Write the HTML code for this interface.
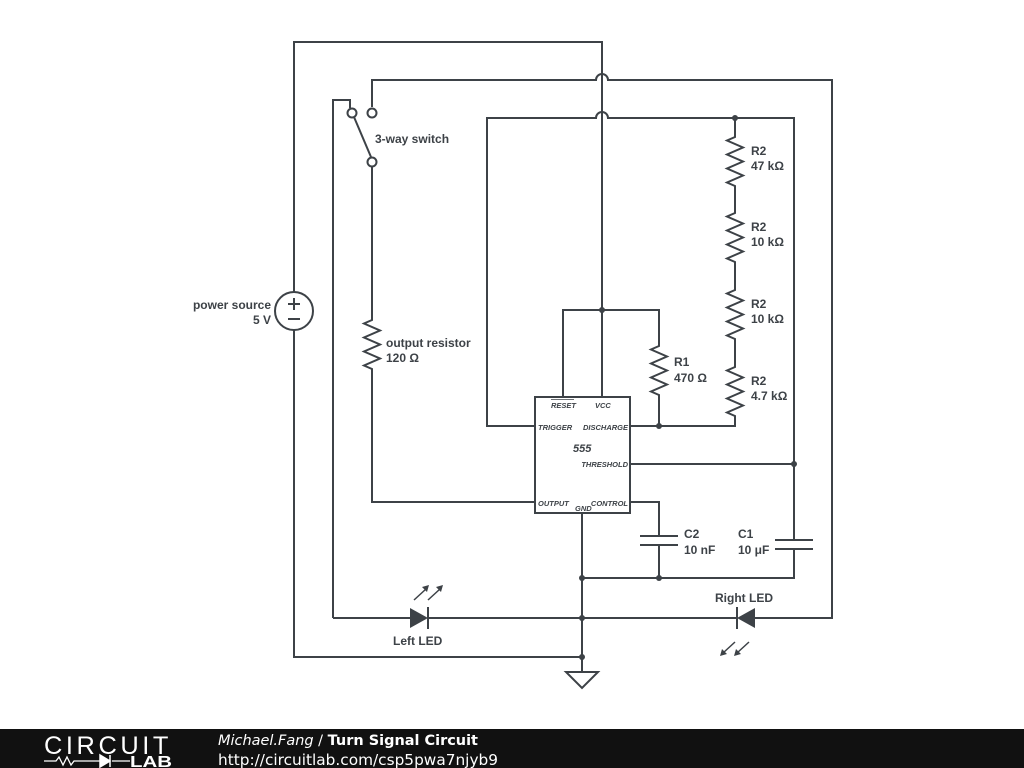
<!DOCTYPE html>
<html><head><meta charset="utf-8"><style>
body{margin:0;width:1024px;height:768px;background:#fff;overflow:hidden;font-family:"Liberation Sans",sans-serif}
svg{position:absolute;left:0;top:0}
</style></head><body>
<svg width="1024" height="768" viewBox="0 0 1024 768" xmlns="http://www.w3.org/2000/svg">
<g fill="none" stroke="#3d4247" stroke-width="2">
<path d="M294 292 V42 H602 V310"/>
<path d="M294 330 V657 H582"/>
<circle cx="294" cy="311" r="19"/>
<path d="M288 304 h12 M294 298 v12 M288 319 h12"/>
<path d="M372 107 V80 H596 a6 6 0 0 1 12 0 H832 V618 H752"/>
<path d="M333 618 V100 H350 V108"/>
<circle cx="352" cy="113" r="4.5" fill="#fff"/>
<circle cx="372" cy="113" r="4.5" fill="#fff"/>
<circle cx="372" cy="162" r="4.5" fill="#fff"/>
<path d="M354 117 L371 157"/>
<path d="M372 167 V320 l-8 3.5 l16 7 l-16 7 l16 7 l-16 7 l16 7 l-16 7 l8 3.5 V502 H535"/>
<path d="M535 426 H487 V118 H596 a6 6 0 0 1 12 0 H794 V540"/>
<path d="M794 549 V578 H582"/>
<path d="M735 118 V137 l-8 3.5 l16 7 l-16 7 l16 7 l-16 7 l16 7 l-16 7 l8 3.5 V213 l-8 3.5 l16 7 l-16 7 l16 7 l-16 7 l16 7 l-16 7 l8 3.5 V290 l-8 3.5 l16 7 l-16 7 l16 7 l-16 7 l16 7 l-16 7 l8 3.5 V367 l-8 3.5 l16 7 l-16 7 l16 7 l-16 7 l16 7 l-16 7 l8 3.5 V426 H630"/>
<path d="M563 397 V310 H659 V346 l-8 3.5 l16 7 l-16 7 l16 7 l-16 7 l16 7 l-16 7 l8 3.5 V426"/>
<path d="M602 310 V397"/>
<path d="M630 464 H794"/>
<path d="M630 502 H659 V536 M659 545 V578"/>
<path d="M640 536 h38 M640 545 h38"/>
<path d="M775 540 h38 M775 549 h38"/>
<path d="M582 513 V672"/>
<path d="M566 672 h32 l-16 16 z"/>
<path d="M333 618 H410 M428 618 H738"/>
<path d="M428 607 v22 M737 607 v22"/>
<rect x="535" y="397" width="95" height="116"/>
<path d="M414 600 l12 -11 M428 600 l12 -11 M723 653 l12 -11 M737 653 l12 -11" stroke-width="1.5"/>
</g>
<g fill="#3d4247">
<path d="M410 608 L428 618 L410 628 Z"/>
<path d="M755 608 L737 618 L755 628 Z"/>
<path d="M429 585 l-7 2 l5 5 z M443 585 l-7 2 l5 5 z M720 656 l2 -7 l5 5 z M734 656 l2 -7 l5 5 z"/>
<circle cx="602" cy="310" r="3"/><circle cx="735" cy="118" r="3"/>
<circle cx="659" cy="426" r="3"/><circle cx="794" cy="464" r="3"/>
<circle cx="582" cy="578" r="3"/><circle cx="659" cy="578" r="3"/>
<circle cx="582" cy="618" r="3"/><circle cx="582" cy="657" r="3"/>
</g>
<g fill="#3d4247" font-family="Liberation Sans, sans-serif" font-size="12" font-weight="bold">
<text x="375" y="143">3-way switch</text>
<text x="271" y="309" text-anchor="end">power source</text>
<text x="271" y="324" text-anchor="end">5 V</text>
<text x="386" y="347">output resistor</text>
<text x="386" y="362">120 Ω</text>
<text x="751" y="155">R2</text><text x="751" y="170">47 kΩ</text>
<text x="751" y="231">R2</text><text x="751" y="246">10 kΩ</text>
<text x="751" y="308">R2</text><text x="751" y="323">10 kΩ</text>
<text x="751" y="385">R2</text><text x="751" y="400">4.7 kΩ</text>
<text x="674" y="366">R1</text><text x="674" y="382">470 Ω</text>
<text x="684" y="538">C2</text><text x="684" y="554">10 nF</text>
<text x="738" y="538">C1</text><text x="738" y="554">10 μF</text>
<text x="393" y="645">Left LED</text>
<text x="715" y="602">Right LED</text>
</g>
<g fill="#3d4247" font-family="Liberation Sans, sans-serif" font-size="7.5" font-style="italic" font-weight="bold">
<text x="551" y="408">RESET</text>
<path d="M551 399.5 h23" stroke="#3d4247" stroke-width="0.8"/>
<text x="595" y="408">VCC</text>
<text x="538" y="430">TRIGGER</text>
<text x="628" y="430" text-anchor="end">DISCHARGE</text>
<text x="628" y="467" text-anchor="end">THRESHOLD</text>
<text x="538" y="506">OUTPUT</text>
<text x="628" y="506" text-anchor="end">CONTROL</text>
<text x="575" y="511">GND</text>
<text x="573" y="452" font-size="11">555</text>
</g>
<rect x="0" y="729" width="1024" height="39" fill="#111"/>
<text x="44" y="754" fill="#fff" font-family="Liberation Sans, sans-serif" font-size="25" letter-spacing="3.5" textLength="128" lengthAdjust="spacingAndGlyphs">CIRCUIT</text>
<path d="M44 761 h12 l3 -4 l4 8 l4 -8 l4 8 l3 -4 h28 M112 761 h18" stroke="#fff" stroke-width="1.3" fill="none"/>
<path d="M100 755 l10 6 l-10 6 z M110 755 v12" fill="#fff" stroke="#fff" stroke-width="1.5"/>
<text x="130" y="767" fill="#fff" font-family="Liberation Sans, sans-serif" font-size="16" font-weight="bold" textLength="42" lengthAdjust="spacingAndGlyphs">LAB</text>
<text x="218" y="745" fill="#fff" font-family="DejaVu Sans, sans-serif" font-size="14.5" textLength="260" lengthAdjust="spacingAndGlyphs"><tspan font-style="italic">Michael.Fang</tspan> / <tspan font-weight="bold">Turn Signal Circuit</tspan></text>
<text x="218" y="765" fill="#fff" font-family="DejaVu Sans, sans-serif" font-size="15" textLength="280" lengthAdjust="spacingAndGlyphs">http://circuitlab.com/csp5pwa7njyb9</text>
</svg>
</body></html>
